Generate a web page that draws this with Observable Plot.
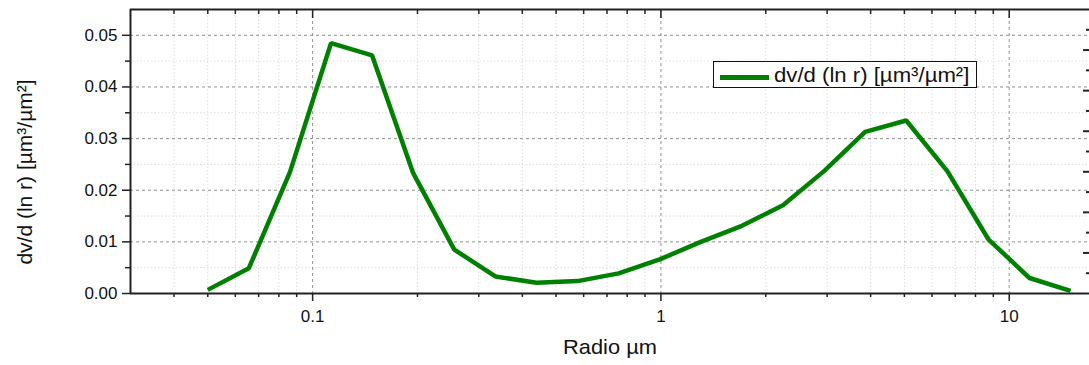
<!DOCTYPE html>
<html><head><meta charset="utf-8">
<script src="https://cdn.jsdelivr.net/npm/d3@7"></script>
<script src="https://cdn.jsdelivr.net/npm/@observablehq/plot@0.6"></script>
<style>
body{margin:0;background:#fff;}
#wrap{position:relative;width:1089px;height:365px;font-family:"Liberation Sans",Arial,sans-serif;color:#111;overflow:hidden;}
#ytitle{position:absolute;left:-125px;top:160px;width:300px;height:24px;line-height:24px;text-align:center;font-size:21px;white-space:nowrap;transform:rotate(-90deg);}
#xtitle{position:absolute;left:460px;top:335px;width:300px;height:24px;line-height:24px;text-align:center;font-size:21px;white-space:nowrap;transform:scaleX(1.04);}
#legend{position:absolute;left:713px;top:61px;width:264px;height:27px;box-sizing:border-box;border:1px solid #111;background:#fff;}
#legend .swatch{position:absolute;left:6px;top:13px;width:49px;height:4.5px;background:#008000;}
#legend .lbl{position:absolute;left:60px;top:1px;line-height:24px;font-size:21px;white-space:nowrap;transform:scaleX(1.055);transform-origin:0 50%;}
</style></head><body><div id="wrap"></div>
<script>
// Radius bins (µm) and volume size distribution dv/d(ln r) [µm³/µm²]
const radius = [0.05, 0.065604, 0.086077, 0.112939, 0.148184, 0.194429, 0.255105, 0.334716, 0.439173, 0.576227, 0.756052, 0.991996, 1.301571, 1.707757, 2.240702, 2.939966, 3.857452, 5.06126, 6.640745, 8.713145, 11.432287, 15.0];
const dvdlnr = [0.0007, 0.0049, 0.0235, 0.0485, 0.0461, 0.0233, 0.0085, 0.0033, 0.0021, 0.0024, 0.0039, 0.0066, 0.0100, 0.0131, 0.0171, 0.0237, 0.0313, 0.0335, 0.0237, 0.0105, 0.0030, 0.0005];

const xDomain = [0.03, 17];
const yDomain = [0, 0.055];
const xMajorTicks = [0.1, 1, 10];
const xMinorTicks = [0.04, 0.05, 0.06, 0.07, 0.08, 0.09, 0.2, 0.3, 0.4, 0.5, 0.6, 0.7, 0.8, 0.9, 2, 3, 4, 5, 6, 7, 8, 9];
const yMajorTicks = [0, 0.01, 0.02, 0.03, 0.04, 0.05];
const yMinorTicks = [0.005, 0.015, 0.025, 0.035, 0.045];
// secondary (unlabelled) right axis, 0..7
const rightAxisMax = 7;
const rightMajorTicks = [1, 2, 3, 4, 5, 6];
const rightMinorTicks = [0.5, 1.5, 2.5, 3.5, 4.5, 5.5, 6.5];

const seriesName = "dv/d (ln r) [µm³/µm²]";
const xTitle = "Radio µm";
const yTitle = "dv/d (ln r) [µm³/µm²]";

const data = radius.map((r, i) => ({r, v: dvdlnr[i]}));
const toLeft = t => t * yDomain[1] / rightAxisMax;
const blank = () => "";
const axisInk = "#222";

const chart = Plot.plot({
  width: 1089, height: 365,
  marginLeft: 130, marginRight: 0, marginTop: 9, marginBottom: 72,
  style: {fontFamily: "'Liberation Sans', Arial, sans-serif", fontSize: "17px", color: "#111", background: "white"},
  x: {type: "log", domain: xDomain},
  y: {domain: yDomain},
  marks: [
    Plot.ruleX(xMinorTicks, {stroke: "#dcdcdc", strokeDasharray: "1.5,2"}),
    Plot.ruleY(yMinorTicks, {stroke: "#dcdcdc", strokeDasharray: "1.5,2"}),
    Plot.ruleX(xMajorTicks, {stroke: "#8f8f8f", strokeDasharray: "3,3"}),
    Plot.ruleY(yMajorTicks.filter(d => d > 0), {stroke: "#8f8f8f", strokeDasharray: "3,3"}),
    Plot.axisX({ticks: xMajorTicks, tickSize: 8, tickPadding: 8, tickFormat: d => String(d), label: null, stroke: axisInk, strokeWidth: 1.5}),
    Plot.axisX({ticks: xMinorTicks, tickSize: 4, tickFormat: blank, label: null, stroke: axisInk, strokeWidth: 1.5}),
    Plot.axisX({anchor: "top", ticks: xMajorTicks, tickSize: 8, dy: 8, tickFormat: blank, label: null, stroke: axisInk, strokeWidth: 1.5}),
    Plot.axisX({anchor: "top", ticks: xMinorTicks, tickSize: 4, dy: 4, tickFormat: blank, label: null, stroke: axisInk, strokeWidth: 1.5}),
    Plot.axisY({ticks: yMajorTicks, tickSize: 8, tickPadding: 5, tickFormat: d => d.toFixed(2), label: null, stroke: axisInk, strokeWidth: 1.5}),
    Plot.axisY({ticks: yMinorTicks, tickSize: 5, tickFormat: blank, label: null, stroke: axisInk, strokeWidth: 1.5}),
    Plot.axisY({anchor: "right", ticks: rightMajorTicks.map(toLeft), tickSize: 7, dx: -7, tickFormat: blank, label: null, stroke: axisInk, strokeWidth: 2}),
    Plot.axisY({anchor: "right", ticks: rightMinorTicks.map(toLeft), tickSize: 4, dx: -4, tickFormat: blank, label: null, stroke: axisInk, strokeWidth: 2}),
    Plot.ruleY([yDomain[0]], {stroke: axisInk, strokeWidth: 2}),
    Plot.ruleY([yDomain[1]], {stroke: axisInk, strokeWidth: 2}),
    Plot.ruleX([xDomain[0]], {stroke: axisInk, strokeWidth: 2}),
    Plot.line(data, {x: "r", y: "v", stroke: "#008000", strokeWidth: 4.5, strokeLinejoin: "miter", strokeLinecap: "butt"})
  ]
});

const wrap = document.getElementById("wrap");
wrap.appendChild(chart);
const yt = document.createElement("div"); yt.id = "ytitle"; yt.textContent = yTitle; wrap.appendChild(yt);
const xt = document.createElement("div"); xt.id = "xtitle"; xt.textContent = xTitle; wrap.appendChild(xt);
const lg = document.createElement("div"); lg.id = "legend";
const sw = document.createElement("div"); sw.className = "swatch"; lg.appendChild(sw);
const lb = document.createElement("div"); lb.className = "lbl"; lb.textContent = seriesName; lg.appendChild(lb);
wrap.appendChild(lg);
</script>
</body></html>
